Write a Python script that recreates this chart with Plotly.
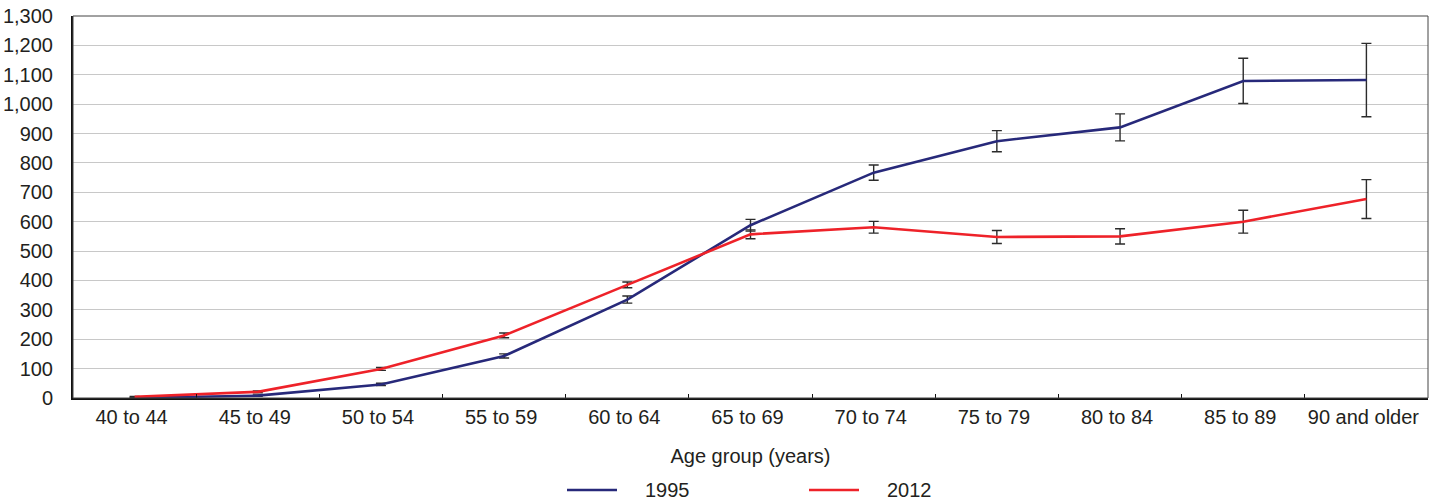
import plotly.graph_objects as go

age_groups = ["40 to 44", "45 to 49", "50 to 54", "55 to 59", "60 to 64", "65 to 69",
              "70 to 74", "75 to 79", "80 to 84", "85 to 89", "90 and older"]

rate_1995 = [1, 8, 46, 143, 335, 588, 767, 874, 921, 1079, 1082]
err_1995 = [1, 2, 4, 7, 12, 20, 26, 36, 46, 77, 125]

rate_2012 = [4, 21, 99, 213, 385, 557, 581, 548, 550, 600, 677]
err_2012 = [1, 3, 5, 8, 10, 15, 20, 22, 26, 39, 66]

y_ticks = list(range(0, 1301, 100))
y_tick_text = [f"{v:,}" for v in y_ticks]

FONT = "Liberation Sans Narrow, Arial Narrow, Liberation Sans, sans-serif"
NAVY = "#27297a"
RED = "#ee2229"
ERR = "#2b2b2b"
FS = 20

series = [("1995", rate_1995, err_1995, NAVY),
          ("2012", rate_2012, err_2012, RED)]

fig = go.Figure()
for name, vals, errs, color in series:
    fig.add_trace(go.Scatter(
        x=age_groups, y=vals, name=name, mode="lines",
        line=dict(color=color, width=2.6),
        error_y=dict(type="data", array=errs, visible=True,
                     color=ERR, thickness=1.4, width=5),
    ))

W, H = 1435, 503
L, R, T, B = 73, 7, 16, 105
pw, ph = W - L - R, H - T - B

fig.update_layout(
    width=W, height=H,
    margin=dict(l=L, r=R, t=T, b=B, autoexpand=False),
    paper_bgcolor="white", plot_bgcolor="white",
    font=dict(family=FONT, size=FS, color="#231f20"),
    showlegend=False,
    xaxis=dict(
        type="category", range=[-0.5, 10.5],
        showline=True, linecolor="#111111", linewidth=2,
        ticks="inside", tickson="boundaries", ticklen=4, tickcolor="#111111",
        showgrid=False, zeroline=False, ticklabelshift=-3,
        title=dict(text="Age group (years)", standoff=22, font=dict(size=FS)),
        tickfont=dict(size=FS),
    ),
    yaxis=dict(
        range=[0, 1300], tickvals=y_ticks, ticktext=y_tick_text,
        showline=True, linecolor="#111111", linewidth=2,
        showgrid=True, gridcolor="#c8c8c8", gridwidth=1.2,
        zeroline=False, ticks="", tickfont=dict(size=FS),
        ticklabelstandoff=14,
    ),
)

# thin frame closing the top and right sides of the plot area
fig.add_shape(type="rect", xref="paper", yref="paper", x0=0, x1=1, y0=0, y1=1,
              line=dict(color="#444444", width=1), layer="above")

# legend row below the axis title: a short line sample followed by the year
legend_y = (T + ph - 490) / ph
for i, (name, _, _, color) in enumerate(series):
    x_line = 567 + i * 242
    fig.add_shape(type="line", xref="paper", yref="paper",
                  x0=(x_line - L) / pw, x1=(x_line + 50 - L) / pw,
                  y0=legend_y, y1=legend_y,
                  line=dict(color=color, width=2.6))
    fig.add_annotation(xref="paper", yref="paper", x=(x_line + 76 - L) / pw, y=legend_y,
                       text=name, showarrow=False, xanchor="left", yanchor="middle",
                       font=dict(size=FS))

fig.write_html("out.html")
